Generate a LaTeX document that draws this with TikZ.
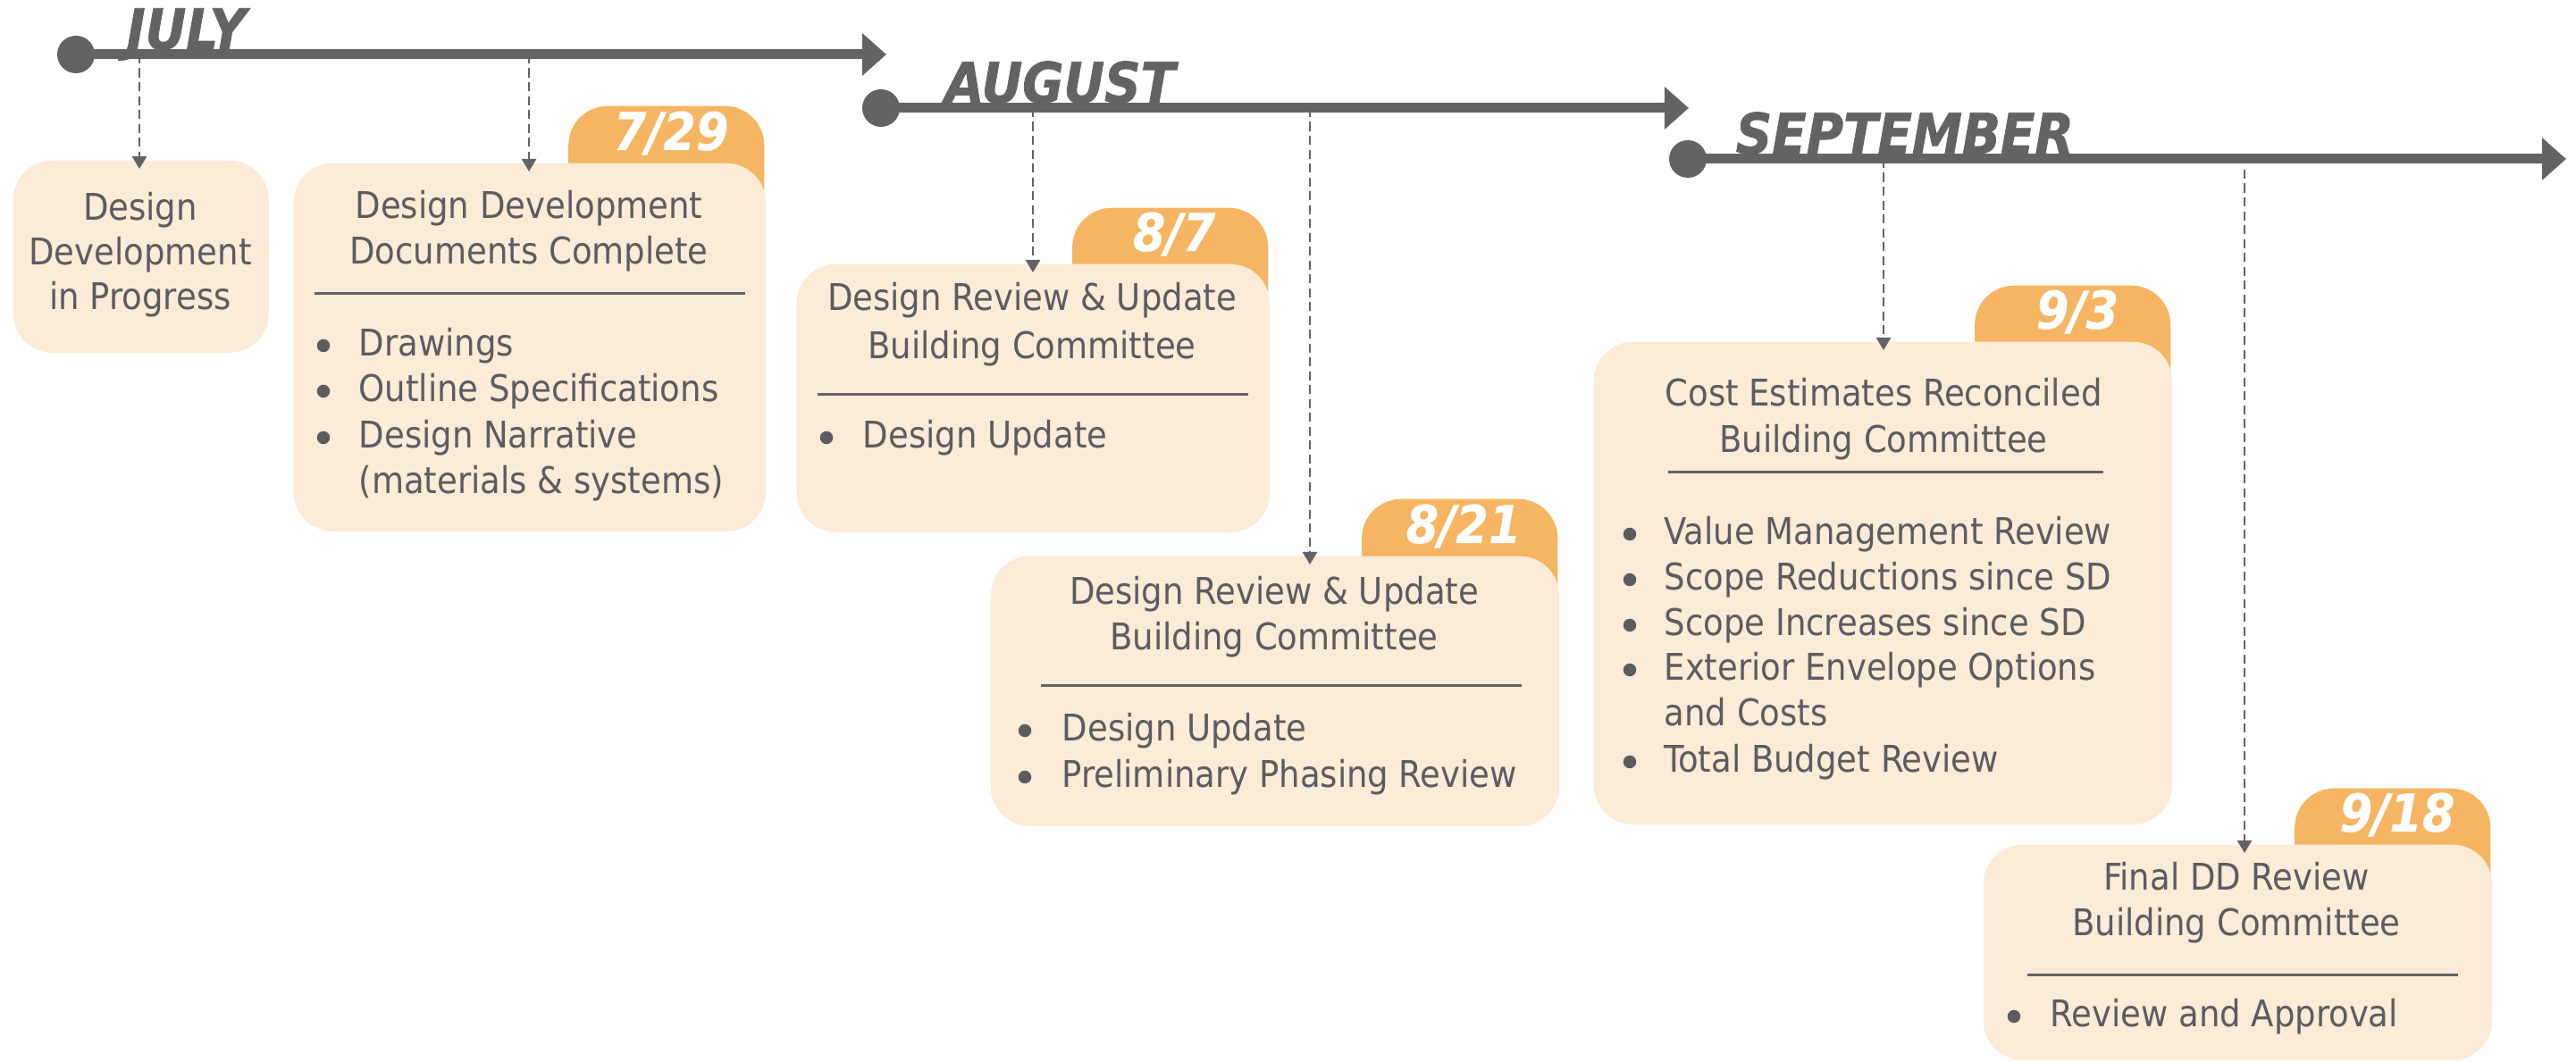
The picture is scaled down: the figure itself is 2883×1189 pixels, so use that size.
\documentclass[tikz,border=0pt]{standalone}
\usepackage{fontspec}
\setmainfont{DejaVu Sans Condensed}[BoldFont={DejaVu Sans Condensed Bold},ItalicFont={DejaVu Sans Condensed Oblique},BoldItalicFont={DejaVu Sans Condensed Bold Oblique}]
\newfontfamily\monthfont{DejaVu Sans Condensed Bold Oblique}[FakeBold=1.2]
\newfontfamily\datefont{DejaVu Sans Condensed Bold Oblique}[FakeBold=0.6]
\usetikzlibrary{arrows.meta}
\definecolor{txt}{HTML}{5C5C60}
\definecolor{tl}{HTML}{636366}
\definecolor{boxc}{HTML}{FBEBD7}
\definecolor{tabc}{HTML}{F5B563}
\begin{document}
\begin{tikzpicture}[x=0.01cm,y=-0.01cm,
  bodyfont/.style={font=\fontsize{11.7pt}{14.6pt}\selectfont, text=txt, inner sep=0pt},
  ttl/.style={bodyfont, anchor=base},
  itm/.style={bodyfont, anchor=base west},
  bul/.style={circle, fill=txt, minimum size=0.145cm, inner sep=0pt},
  card/.style={fill=boxc, rounded corners=0.44cm, anchor=north west, inner sep=0pt},
  tabbox/.style={fill=tabc, rounded corners=0.44cm, anchor=north east, minimum width=2.19cm, minimum height=1.64cm, inner sep=0pt},
  datelbl/.style={font=\datefont\fontsize{16.6pt}{19pt}\selectfont, text=white, anchor=base, inner sep=0pt},
  month/.style={font=\monthfont\fontsize{17.8pt}{20pt}\selectfont, text=tl, anchor=base west, inner sep=0pt},
  divider/.style={draw=tl, line width=0.03cm},
  conn/.style={draw=tl, line width=0.028cm, dash pattern=on 0.1cm off 0.055cm, -{Triangle[length=0.14cm,width=0.16cm]}},
  axis/.style={draw=tl, line width=0.11cm, -{Triangle[length=0.27cm,width=0.46cm]}},
  dot/.style={circle, fill=tl, minimum size=0.42cm, inner sep=0pt}
]
\useasboundingbox (0,0) rectangle (2883,1189);

% ---------- tabs (behind cards) ----------
\node[tabbox] (t2) at (856,118) {};
\node[tabbox] (t3) at (1420,232) {};
\node[tabbox] (t4) at (1744,558) {};
\node[tabbox] (t5) at (2430,319) {};
\node[tabbox] (t6) at (2788,882) {};

% ---------- cards ----------
\node[card, minimum width=2.86cm, minimum height=2.15cm] (b1) at (14,179) {};
\node[card, minimum width=5.28cm, minimum height=4.12cm] (b2) at (328,182) {};
\node[card, minimum width=5.29cm, minimum height=3.00cm] (b3) at (891,295) {};
\node[card, minimum width=6.36cm, minimum height=3.02cm] (b4) at (1108,622) {};
\node[card, minimum width=6.47cm, minimum height=5.40cm] (b5) at (1783,382) {};
\node[card, minimum width=5.69cm, minimum height=2.41cm] (b6) at (2219,945) {};

% ---------- date labels ----------
\node[datelbl] (d2) at (751,168) {7/29};
\node[datelbl] (d3) at (1314,281) {8/7};
\node[datelbl] (d4) at (1638,608) {8/21};
\node[datelbl] (d5) at (2325,368) {9/3};
\node[datelbl] (d6) at (2683,931) {9/18};

% ---------- card 1 ----------
\node[ttl] (b1l1) at (157,247) {Design};
\node[ttl] (b1l2) at (157,297) {Development};
\node[ttl] (b1l3) at (157,347) {in Progress};

% ---------- card 2 ----------
\node[ttl] (b2l1) at (592,245) {Design Development};
\node[ttl] (b2l2) at (592,296) {Documents Complete};
\draw[divider] (352,329) -- (834,329);
\node[bul] (b2p1) at (362,387) {};
\node[itm] (b2i1) at (401,399) {Drawings};
\node[bul] (b2p2) at (362,438) {};
\node[itm] (b2i2) at (401,450) {Outline Specifications};
\node[bul] (b2p3) at (362,490) {};
\node[itm] (b2i3) at (401,502) {Design Narrative};
\node[itm] (b2i4) at (401,553) {(materials \& systems)};

% ---------- card 3 ----------
\node[ttl] (b3l1) at (1155,348) {Design Review \& Update};
\node[ttl] (b3l2) at (1155,402) {Building Committee};
\draw[divider] (915,442) -- (1397,442);
\node[bul] (b3p1) at (925,490) {};
\node[itm] (b3i1) at (965,502) {Design Update};

% ---------- card 4 ----------
\node[ttl] (b4l1) at (1426,677) {Design Review \& Update};
\node[ttl] (b4l2) at (1426,728) {Building Committee};
\draw[divider] (1165,768) -- (1703,768);
\node[bul] (b4p1) at (1147,818) {};
\node[itm] (b4i1) at (1188,830) {Design Update};
\node[bul] (b4p2) at (1147,870) {};
\node[itm] (b4i2) at (1188,882) {Preliminary Phasing Review};

% ---------- card 5 ----------
\node[ttl] (b5l1) at (2108,455) {Cost Estimates Reconciled};
\node[ttl] (b5l2) at (2108,507) {Building Committee};
\draw[divider] (1867,529) -- (2354,529);
\node[bul] (b5p1) at (1824,598) {};
\node[itm] (b5i1) at (1862,610) {Value Management Review};
\node[bul] (b5p2) at (1824,649) {};
\node[itm] (b5i2) at (1862,661) {Scope Reductions since SD};
\node[bul] (b5p3) at (1824,700) {};
\node[itm] (b5i3) at (1862,712) {Scope Increases since SD};
\node[bul] (b5p4) at (1824,750) {};
\node[itm] (b5i4) at (1862,762) {Exterior Envelope Options};
\node[itm] (b5i5) at (1862,813) {and Costs};
\node[bul] (b5p6) at (1824,853) {};
\node[itm] (b5i6) at (1862,865) {Total Budget Review};

% ---------- card 6 ----------
\node[ttl] (b6l1) at (2503,997) {Final DD Review};
\node[ttl] (b6l2) at (2503,1048) {Building Committee};
\draw[divider] (2269,1092) -- (2751,1092);
\node[bul] (b6p1) at (2254,1138) {};
\node[itm] (b6i1) at (2294,1150) {Review and Approval};

% ---------- connectors ----------
\coordinate (a1) at (156,61);
\coordinate (a2) at (592,61);
\coordinate (a3) at (1156,121);
\coordinate (a4) at (1466,121);
\coordinate (a5) at (2108,178);
\coordinate (a6) at (2512,190);
\draw[conn] (a1) -- ([yshift=-0.1cm]a1 |- b1.north);
\draw[conn] (a2) -- ([yshift=-0.1cm]a2 |- b2.north);
\draw[conn] (a3) -- ([yshift=-0.1cm]a3 |- b3.north);
\draw[conn] (a4) -- ([yshift=-0.1cm]a4 |- b4.north);
\draw[conn] (a5) -- ([yshift=-0.1cm]a5 |- b5.north);
\draw[conn] (a6) -- ([yshift=-0.1cm]a6 |- b6.north);

% ---------- timelines ----------
\node[dot] (jul) at (85,61) {};
\coordinate (julend) at (992,61);
\draw[axis] (jul.center) -- (julend);
\node[dot] (aug) at (986,121) {};
\coordinate (augend) at (1890,121);
\draw[axis] (aug.center) -- (augend);
\node[dot] (sep) at (1889,178) {};
\coordinate (sepend) at (2872,178);
\draw[axis] (sep.center) -- (sepend);

\node[month] (mjul) at (141,55) {JULY};
\node[month] (maug) at (1057,115) {AUGUST};
\node[month] (msep) at (1942,172) {SEPTEMBER};
\end{tikzpicture}
\end{document}
